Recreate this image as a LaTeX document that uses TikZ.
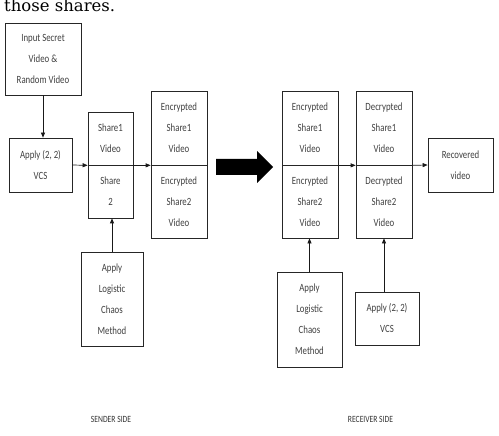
\documentclass[tikz,border=0pt]{standalone}
\usepackage{fontspec}
\setmainfont{Carlito}
\newfontfamily\condf[FakeStretch=0.8]{Carlito}
\newfontfamily\serifx{DejaVu Serif}
\usetikzlibrary{arrows.meta}
\begin{document}
\begin{tikzpicture}[x=1pt,y=-1pt,
  box/.style={draw=black!85, line width=0.7pt, inner sep=0pt, align=center,
    font=\condf\fontsize{11}{21}\selectfont, text=black!75},
  arr/.style={-{Triangle[length=5pt,width=4pt]}, line width=0.7pt, draw=black!90},
  side/.style={inner sep=0pt, font=\condf\fontsize{9.5}{10}\selectfont, text=black!80}]
\useasboundingbox (0,0) rectangle (499,436);
\fill[white] (0,0) rectangle (499,436);
\node[anchor=base west, inner sep=0pt, font=\serifx\fontsize{16.5}{17}\selectfont] (top) at (4,11.5) {those shares.};
% sender
\node[box, minimum width=76pt, minimum height=72pt] (input) at (43,59) {Input Secret\\Video \&\\Random Video};
\node[box, minimum width=63pt, minimum height=54pt] (apply) at (40.5,165) {Apply (2, 2)\\VCS};
\node[box, minimum width=45pt, minimum height=53pt] (sh1) at (110.5,138.5) {Share1\\Video};
\node[box, minimum width=45pt, minimum height=53pt] (sh2) at (110.5,191.5) {Share\\2};
\node[box, minimum width=56pt, minimum height=74pt] (es1) at (179,128) {Encrypted\\Share1\\Video};
\node[box, minimum width=56pt, minimum height=73pt] (es2) at (179,201.5) {Encrypted\\Share2\\Video};
\node[box, minimum width=62pt, minimum height=94pt] (logs) at (112,299) {Apply\\Logistic\\Chaos\\Method};
% big arrow
\fill[black] (216,159) -- (257,159) -- (257,151) -- (273,167) -- (257,183) -- (257,175) -- (216,175) -- cycle;
% receiver
\node[box, minimum width=56pt, minimum height=74pt] (er1) at (310,128) {Encrypted\\Share1\\Video};
\node[box, minimum width=56pt, minimum height=73pt] (er2) at (310,201.5) {Encrypted\\Share2\\Video};
\node[box, minimum width=56pt, minimum height=74pt] (d1) at (384,128) {Decrypted\\Share1\\Video};
\node[box, minimum width=56pt, minimum height=73pt] (d2) at (384,201.5) {Decrypted\\Share2\\Video};
\node[box, minimum width=65pt, minimum height=54pt] (rec) at (460.5,165) {Recovered\\video};
\node[box, minimum width=65pt, minimum height=95pt] (logr) at (309.5,319.5) {Apply\\Logistic\\Chaos\\Method};
\node[box, minimum width=64pt, minimum height=53pt] (vcsr) at (387,318.5) {Apply (2, 2)\\VCS};
% connectors
\draw[arr] (input.south) -- (input.south |- apply.north);
\draw[arr] (apply.east) -- (sh1.south west);
\draw[arr] (sh1.south east) -- (es1.south west);
\draw[arr] (logs.north) -- (logs.north |- sh2.south);
\draw[arr] (er1.south east) -- (d1.south west);
\draw[arr] (d1.south east) -- (rec.west);
\draw[arr] (logr.north) -- (logr.north |- er2.south);
\draw[arr] (d2.south |- vcsr.north) -- (d2.south);
% labels
\node[side] (sender) at (111,419) {SENDER SIDE};
\node[side] (receiver) at (370.5,419) {RECEIVER SIDE};
\end{tikzpicture}
\end{document}
